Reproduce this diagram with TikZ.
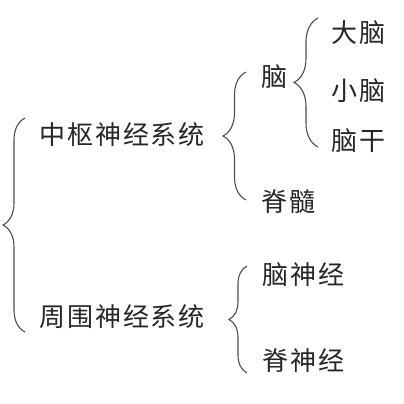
\documentclass[tikz,border=0pt]{standalone}
\usepackage{fontspec}
\setmainfont{Noto Sans CJK SC}[LetterSpace=7.5]
\usetikzlibrary{decorations.pathreplacing}
\tikzset{
  term/.style={anchor=west, inner sep=0pt, text=black!85, font=\fontsize{26}{26}\selectfont},
  curly/.style={decorate, decoration={brace, amplitude=#1}, line width=1.1pt, draw=black!70},
}
\begin{document}
\begin{tikzpicture}[x=1pt, y=-1pt]
  \useasboundingbox (0,0) rectangle (404,404);
  % First level
  \node[term] (cns) at (39,135) {中枢神经系统};
  \node[term] (pns) at (39,317) {周围神经系统};
  % Central branch
  \node[term] (brain) at (261,77) {脑};
  \node[term] (cord) at (261,202) {脊髓};
  \node[term] (cerebrum) at (331,33) {大脑};
  \node[term] (cerebellum) at (331,91) {小脑};
  \node[term] (stem) at (331,141) {脑干};
  % Peripheral branch
  \node[term] (cranial) at (262,275) {脑神经};
  \node[term] (spinal) at (262,361) {脊神经};

  % Braces (drawn bottom to top so the tip points left)
  \coordinate (b0top) at (25,118);
  \coordinate (b0bot) at (25,332);
  \draw[curly=22] (b0bot) -- (b0top); % whole system
  \coordinate (b1top) at (246,72);
  \coordinate (b1bot) at (246,200);
  \draw[curly=23] (b1bot) -- (b1top); % central
  \coordinate (b2top) at (318,18);
  \coordinate (b2bot) at (318,147);
  \draw[curly=24] (b2bot) -- (b2top); % brain
  \coordinate (b3top) at (247,266);
  \coordinate (b3bot) at (247,373);
  \draw[curly=18] (b3bot) -- (b3top); % peripheral
\end{tikzpicture}
\end{document}
